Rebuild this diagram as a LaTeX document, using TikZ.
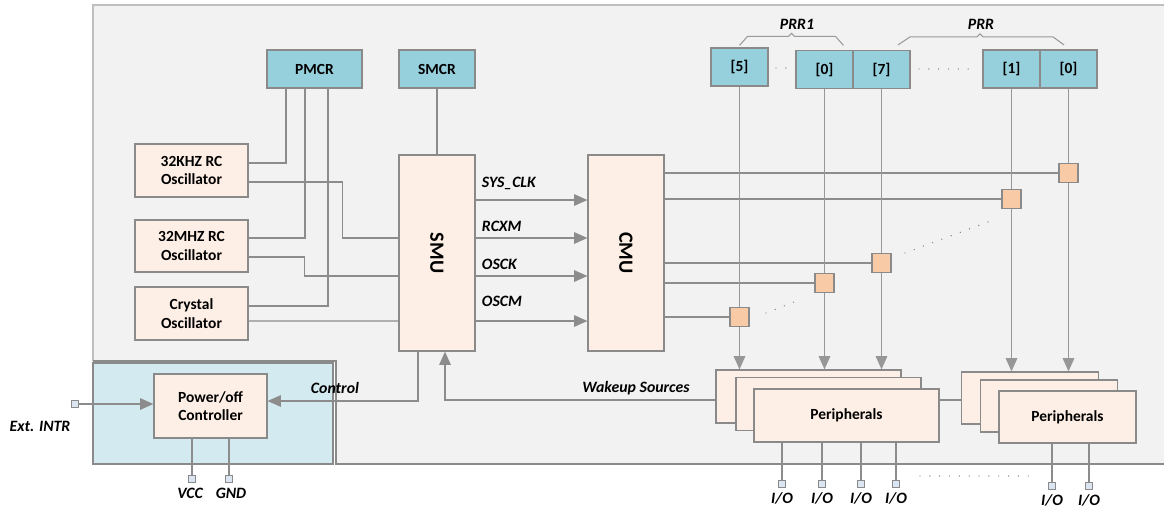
\documentclass[tikz,border=0pt]{standalone}
\usepackage{fontspec}
\setmainfont{Carlito}
\usepackage{xcolor}
\usepackage{tikz}
\usetikzlibrary{arrows.meta, positioning, calc}

\definecolor{bggray}{HTML}{F2F2F2}
\definecolor{regcyan}{HTML}{97D0DD}
\definecolor{boxpeach}{HTML}{FDEFE5}
\definecolor{swpeach}{HTML}{F8CBA6}
\definecolor{ctlblue}{HTML}{D3EAF0}
\definecolor{pinblue}{HTML}{DCE6F2}
\definecolor{linegray}{HTML}{8C8C8C}
\definecolor{boxgray}{HTML}{8A8A8A}

\begin{document}
\begin{tikzpicture}[
    x=0.02cm, y=-0.02cm,
    line/.style={draw=linegray, line width=0.7pt},
    bus/.style={draw=linegray!90, line width=0.9pt},
    arr/.style={-{Triangle[length=7.5pt,width=6.5pt]}},
    dots/.style={draw=gray, line width=0.8pt, line cap=round, dash pattern=on 0pt off 5.6pt},
    reg/.style={rectangle, draw=boxgray, line width=0.7pt, fill=regcyan, minimum width=1.14cm, minimum height=0.76cm, inner sep=0pt, font=\fontsize{8.8}{10}\selectfont\bfseries},
    blk/.style={rectangle, draw=boxgray, line width=0.7pt, fill=boxpeach, minimum width=2.26cm, minimum height=1.06cm, inner sep=0pt, align=center, font=\fontsize{8.8}{10.6}\selectfont\bfseries},
    unit/.style={rectangle, draw=boxgray, line width=0.7pt, fill=boxpeach, minimum width=1.52cm, minimum height=3.92cm, inner sep=0pt},
    per1/.style={blk, minimum width=3.7cm, minimum height=1.06cm},
    per2/.style={blk, minimum width=2.74cm, minimum height=1.04cm},
    sw/.style={rectangle, draw=boxgray, line width=0.7pt, fill=swpeach, minimum size=0.38cm, inner sep=0pt},
    pin/.style={rectangle, draw=boxgray, line width=0.5pt, fill=pinblue, minimum size=0.14cm, inner sep=0pt},
    lbl/.style={inner sep=0pt, font=\fontsize{9}{10}\selectfont\bfseries\itshape}
]
\useasboundingbox (0,0) rectangle (1164,508);

% chip area and power domain
\fill[bggray] (93,5) -- (1164,5) -- (1164,464) -- (336,464) -- (336,361) -- (93,361) -- cycle;
\draw[gray!50, line width=1.2pt] (1164,5) -- (93,5) -- (93,361);
\draw[boxgray, line width=0.7pt] (93,361) -- (336,361) -- (336,464) -- (1164,464);
\draw[boxgray, line width=0.6pt, fill=ctlblue] (93,363) rectangle (333,464);

% registers
\node[reg, minimum width=1.9cm] (pmcr) at (314.5,69) {PMCR};
\node[reg, minimum width=1.52cm] (smcr) at (437,69) {SMCR};
\node[reg] (reg5) at (739.5,67) {[5]};
\node[reg] (reg0a) at (824.5,69.5) {[0]};
\node[reg] (reg7) at (881.5,69.5) {[7]};
\node[reg] (reg1) at (1011.5,69) {[1]};
\node[reg] (reg0b) at (1068.5,69) {[0]};

\node[lbl] (prr1) at (797,24) {PRR1};
\node[lbl] (prr) at (981,24) {PRR};
\draw[draw=gray!80, line width=0.6pt] ($(reg5.north)+(0,-2)$) -- ++(8,-9) -- ++(41,0) -- ++(3,-3) -- ++(3,3) -- ++(41,0) -- ++(8,9);
\draw[draw=gray!80, line width=0.6pt] ($(reg7.north)+(16.5,-5)$) -- ++(12,-8) -- ++(67,0) -- ++(3,-3) -- ++(3,3) -- ++(70,0) -- ++(11,8);

% oscillators
\node[blk] (osc32k) at (191.5,170.5) {32KHZ RC\\Oscillator};
\node[blk, minimum height=1.04cm] (osc32m) at (191.5,246) {32MHZ RC\\Oscillator};
\node[blk] (xtal) at (191.5,313.5) {Crystal\\Oscillator};

% SMU and CMU
\node[unit] (smu) at (437,253) {};
\node[rotate=-90, font=\fontsize{11.5}{12}\selectfont\bfseries] (smutext) at (smu) {SMU};
\node[unit] (cmu) at (626,253) {};
\node[rotate=-90, font=\fontsize{11.5}{12}\selectfont\bfseries] (cmutext) at (cmu) {CMU};

% power/off controller
\node[blk, minimum height=1.28cm] (pwr) at (210.5,406) {Power/off\\Controller};

% peripherals
\node[per1] (per1a) at (808.5,396.5) {};
\node[per1] (per1b) at (828.5,404) {};
\node[per1] (per1c) at (846.5,415.5) {Peripherals};
\node[per2] (per2a) at (1030,398) {};
\node[per2] (per2b) at (1049,406) {};
\node[per2] (per2c) at (1067.5,417) {Peripherals};

% clock gates
\node[sw] (sw1) at (1068.5,173) {};
\node[sw] (sw2) at (1011.5,199) {};
\node[sw] (sw3) at (881.5,263) {};
\node[sw] (sw4) at (824.5,283) {};
\node[sw] (sw5) at (739.5,317) {};

% PMCR to oscillators
\draw[line] ($(pmcr.south)+(-28.5,0)$) |- ($(osc32k.east)+(0,-7.5)$);
\draw[line] ($(pmcr.south)+(-9.5,0)$) |- ($(osc32m.east)+(0,-8)$);
\draw[line] ($(pmcr.south)+(13.5,0)$) |- ($(xtal.east)+(0,-7.5)$);

% oscillators to SMU
\draw[line] ($(osc32k.east)+(0,11.5)$) -| ($(smu.west)+(-56,-15)$) -- ($(smu.west)+(0,-15)$);
\draw[line] ($(osc32m.east)+(0,11)$) -| ($(smu.west)+(-94,23)$) -- ($(smu.west)+(0,23)$);
\draw[line] ($(xtal.east)+(0,7.5)$) -- ($(smu.west)+(0,68)$);
\draw[line] (smcr) -- (smu);

% SMU to CMU
\foreach \dy/\ly/\txt [count=\i] in {-53/-70/SYS\_CLK, -15/-27/RCXM, 23/11/OSCK, 68/48/OSCM}
{
    \draw[line, arr] ($(smu.east)+(0,\dy)$) -- ($(cmu.west)+(0,\dy)$);
    \node[lbl, anchor=west] (sig\i) at ($(smu.east)+(6,\ly)$) {\txt};
}

% CMU to gates
\draw[line] ($(cmu.east)+(0,-80)$) -- (sw1.west);
\draw[line] ($(cmu.east)+(0,-54)$) -- (sw2.west);
\draw[line] ($(cmu.east)+(0,10)$) -- (sw3.west);
\draw[line] ($(cmu.east)+(0,30)$) -- (sw4.west);
\draw[line] ($(cmu.east)+(0,64)$) -- (sw5.west);

% enables down to peripherals
\draw[bus] (reg0b) -- (sw1);
\draw[bus] (reg1) -- (sw2);
\draw[bus] (reg7) -- (sw3);
\draw[bus] (reg0a) -- (sw4);
\draw[bus] (reg5) -- (sw5);
\draw[bus, arr] (sw1) -- (sw1 |- per2a.north);
\draw[bus, arr] (sw2) -- (sw2 |- per2a.north);
\draw[bus, arr] (sw3) -- (sw3 |- per1a.north);
\draw[bus, arr] (sw4) -- (sw4 |- per1a.north);
\draw[bus, arr] (sw5) -- (sw5 |- per1a.north);

% dotted gaps
\draw[dots] (776,68) -- (788,68);
\draw[dots] (919,69) -- (971,69);
\draw[dots] (766,313) -- (794,302);
\draw[dots] (905,253) -- (993,220);
\draw[dots] (920,476) -- (1032,476);

% wakeup and control
\draw[line] ($(per1c.east)+(0,-15.5)$) -- ($(per2a.west)+(0,2)$);
\draw[line, arr] ($(per1a.west)+(0,3.5)$) -| ($(smu.south)+(8,0)$);
\node[lbl] (wake) at (636,388) {Wakeup Sources};
\draw[line, arr] ($(smu.south)+(-19,0)$) |- ($(pwr.east)+(0,-5)$);
\node[lbl] (ctl) at (335,388) {Control};

% pins
\node[pin] (extpin) at (75,404) {};
\draw[line, arr] (extpin) -- (extpin -| pwr.west);
\node[lbl] (extlbl) at (40,426) {Ext. INTR};
\node[pin] (vccpin) at (192,479) {};
\node[pin] (gndpin) at (229,479) {};
\draw[line] (vccpin |- pwr.south) -- (vccpin);
\draw[line] (gndpin |- pwr.south) -- (gndpin);
\node[lbl] (vcclbl) at (190,493) {VCC};
\node[lbl] (gndlbl) at (231,493) {GND};

\foreach \x [count=\i] in {782,822,861,896}
{
    \node[pin] (io\i) at (\x,484) {};
    \draw[line] (io\i |- per1c.south) -- (io\i);
    \node[lbl] (iolbl\i) at (\x,498) {I/O};
}
\foreach \x [count=\i] in {1052,1089}
{
    \node[pin] (iob\i) at (\x,486) {};
    \draw[line] (iob\i |- per2c.south) -- (iob\i);
    \node[lbl] (ioblbl\i) at (\x,500) {I/O};
}
\end{tikzpicture}
\end{document}
